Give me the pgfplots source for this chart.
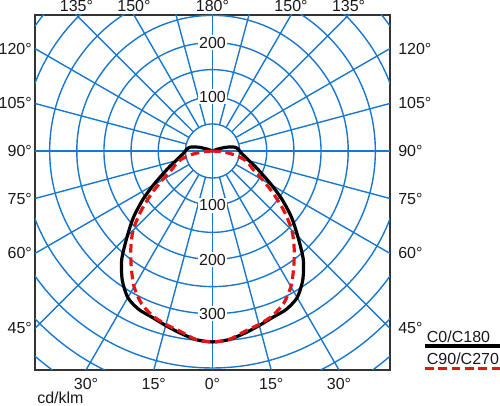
\documentclass[border=0pt]{standalone}
\usepackage{fontspec}
\setmainfont{Liberation Sans}
\usepackage{pgfplots}
\pgfplotsset{compat=1.18}
\definecolor{gridblue}{RGB}{25,120,205}
\definecolor{ldcred}{RGB}{230,20,20}
\definecolor{txt}{RGB}{25,25,25}
\begin{document}
\begin{tikzpicture}[font=\fontsize{12}{14}\selectfont, text=txt]
\useasboundingbox (0,0) rectangle (375pt,304.5pt);
\begin{axis}[
  at={(26.25pt,27pt)}, anchor=south west,
  scale only axis, width=266.25pt, height=266.25pt,
  xmin=-327, xmax=327, ymin=-403.7, ymax=250.7,
  axis line style={draw=black!80, line width=1pt},
  xtick=\empty, ytick=\empty,
  clip=true,
]
% grid circles
\pgfplotsinvokeforeach{50,100,150,200,250,300,350,400,450,500,550}{
  \draw[gridblue, line width=1.05pt] (axis cs:0,0) circle [radius=#1];
}
% rays
\pgfplotsinvokeforeach{15,30,45,60,75,105,120,135,150,165}{
  \draw[gridblue, line width=1.05pt] (axis cs:{50*sin(#1)},{-50*cos(#1)}) -- (axis cs:{800*sin(#1)},{-800*cos(#1)});
  \draw[gridblue, line width=1.05pt] (axis cs:{-50*sin(#1)},{-50*cos(#1)}) -- (axis cs:{-800*sin(#1)},{-800*cos(#1)});
}
\draw[gridblue, line width=1.05pt] (axis cs:-800,0) -- (axis cs:800,0);
\draw[gridblue, line width=1.05pt] (axis cs:0,-800) -- (axis cs:0,800);
% radial labels
\node[fill=white, inner sep=1.2pt] at (axis cs:0,100) {100};
\node[fill=white, inner sep=1.2pt] at (axis cs:0,200) {200};
\node[fill=white, inner sep=1.2pt] at (axis cs:0,-100) {100};
\node[fill=white, inner sep=1.2pt] at (axis cs:0,-200) {200};
\node[fill=white, inner sep=1.2pt] at (axis cs:0,-300) {300};
% C0/C180
\addplot[black, line width=2.4pt, smooth, tension=0.45] table[x expr={\thisrow{r}*sin(\thisrow{a})}, y expr={-\thisrow{r}*cos(\thisrow{a})}] {
a r
-113 0
-110 10
-105 27
-100 41
-95 47
-90 50
-85 54
-80 61
-75 70
-70 84
-65 101
-60 126
-55 157
-50 190
-45 222
-40 260
-35 290
-30 312
-25 322
-20 326
-15 333
-10 341
-5 349
0 352
5 349
10 341
15 333
20 326
25 322
30 312
35 290
40 260
45 222
50 190
55 157
60 126
65 101
70 84
75 70
80 61
85 54
90 50
95 47
100 41
105 27
110 10
113 0
};
% C90/C270
\addplot[ldcred, line width=2.4pt, dash pattern=on 6.5pt off 3.5pt, smooth, tension=0.45] table[x expr={\thisrow{r}*sin(\thisrow{a})}, y expr={-\thisrow{r}*cos(\thisrow{a})}] {
a r
-90 0
-85 20
-80 41
-75 60
-70 72
-65 84
-60 107
-55 137
-50 172
-45 207
-40 234
-35 261
-30 289
-25 310
-20 323
-15 331
-10 338
-5 349
0 352
5 349
10 338
15 331
20 323
25 310
30 289
35 261
40 234
45 207
50 172
55 137
60 107
65 84
70 72
75 60
80 41
85 20
90 0
};
% label anchor coordinates
\coordinate (T135L) at (axis cs:-250.7,250.7);
\coordinate (T150L) at (axis cs:-144.7,250.7);
\coordinate (T180)  at (axis cs:0,250.7);
\coordinate (T150R) at (axis cs:144.7,250.7);
\coordinate (T135R) at (axis cs:250.7,250.7);
\coordinate (L120) at (axis cs:-327,188.8);
\coordinate (L105) at (axis cs:-327,87.6);
\coordinate (L90)  at (axis cs:-327,0);
\coordinate (L75)  at (axis cs:-327,-87.6);
\coordinate (L60)  at (axis cs:-327,-188.8);
\coordinate (L45)  at (axis cs:-327,-327);
\coordinate (R120) at (axis cs:327,188.8);
\coordinate (R105) at (axis cs:327,87.6);
\coordinate (R90)  at (axis cs:327,0);
\coordinate (R75)  at (axis cs:327,-87.6);
\coordinate (R60)  at (axis cs:327,-188.8);
\coordinate (R45)  at (axis cs:327,-327);
\coordinate (B30L) at (axis cs:-233.1,-403.7);
\coordinate (B15L) at (axis cs:-108.2,-403.7);
\coordinate (B0)   at (axis cs:0,-403.7);
\coordinate (B15R) at (axis cs:108.2,-403.7);
\coordinate (B30R) at (axis cs:233.1,-403.7);
\end{axis}
% top labels
\node[anchor=base, inner sep=0pt] at ([yshift=2.4pt]T135L) {135°};
\node[anchor=base, inner sep=0pt] at ([yshift=2.4pt]T150L) {150°};
\node[anchor=base, inner sep=0pt] at ([yshift=2.4pt]T180) {180°};
\node[anchor=base, inner sep=0pt] at ([yshift=2.4pt]T150R) {150°};
\node[anchor=base, inner sep=0pt] at ([yshift=2.4pt]T135R) {135°};
% left labels
\node[anchor=east, inner sep=0pt] at ([xshift=-2.2pt]L120) {120°};
\node[anchor=east, inner sep=0pt] at ([xshift=-2.2pt]L105) {105°};
\node[anchor=east, inner sep=0pt] at ([xshift=-2.2pt]L90) {90°};
\node[anchor=east, inner sep=0pt] at ([xshift=-2.2pt]L75) {75°};
\node[anchor=east, inner sep=0pt] at ([xshift=-2.2pt]L60) {60°};
\node[anchor=east, inner sep=0pt] at ([xshift=-2.2pt]L45) {45°};
% right labels
\node[anchor=west, inner sep=0pt] at ([xshift=6pt]R120) {120°};
\node[anchor=west, inner sep=0pt] at ([xshift=6pt]R105) {105°};
\node[anchor=west, inner sep=0pt] at ([xshift=6pt]R90) {90°};
\node[anchor=west, inner sep=0pt] at ([xshift=6pt]R75) {75°};
\node[anchor=west, inner sep=0pt] at ([xshift=6pt]R60) {60°};
\node[anchor=west, inner sep=0pt] at ([xshift=6pt]R45) {45°};
% bottom labels
\node[anchor=north, inner sep=0pt] at ([yshift=-6pt]B30L) {30°};
\node[anchor=north, inner sep=0pt] at ([yshift=-6pt]B15L) {15°};
\node[anchor=north, inner sep=0pt] at ([yshift=-6pt]B0) {0°};
\node[anchor=north, inner sep=0pt] at ([yshift=-6pt]B15R) {15°};
\node[anchor=north, inner sep=0pt] at ([yshift=-6pt]B30R) {30°};
% unit
\node[anchor=base west, inner sep=0pt] at (27.75pt,1.5pt) {cd/klm};
% legend
\node[anchor=base west, inner sep=0pt] at (320pt,47.4pt) {C0/C180};
\draw[black, line width=2.4pt] (318.75pt,45.0pt) -- (375pt,45.0pt);
\node[anchor=base west, inner sep=0pt] at (320pt,30.9pt) {C90/C270};
\draw[ldcred, line width=2.4pt, dash pattern=on 6.5pt off 3.5pt] (318.75pt,28.4pt) -- (375pt,28.4pt);
\end{tikzpicture}
\end{document}
